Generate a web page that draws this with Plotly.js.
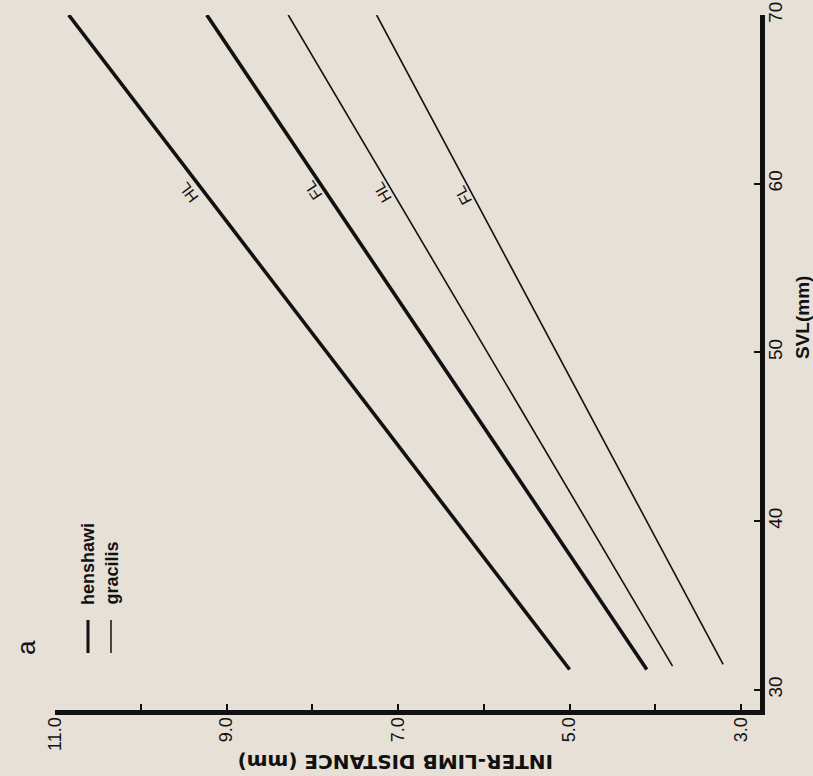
<!DOCTYPE html>
<html>
<head>
<meta charset="utf-8">
<script src="https://cdn.plot.ly/plotly-3.0.1.min.js"></script>
<style>
  html, body { margin: 0; padding: 0; background: #e6e0d7; }
  #chart { width: 813px; height: 776px; }
</style>
</head>
<body>
<div id="chart"></div>
<script>
// Chart is shown rotated 90° CCW: horizontal = inter-limb distance (reversed), vertical = SVL
const seriesNames = ['henshawi HL', 'henshawi FL', 'gracilis HL', 'gracilis FL'];
const svlHenshawiHL = [31.2, 70];
const svlHenshawiFL = [31.2, 70];
const svlGracilisHL = [31.4, 70];
const svlGracilisFL = [31.5, 70];
const distHenshawiHL = [5.0, 10.84];
const distHenshawiFL = [4.10, 9.23];
const distGracilisHL = [3.80, 8.28];
const distGracilisFL = [3.21, 7.25];

const distTicks = [3, 4, 5, 6, 7, 8, 9, 10, 11];
const distTickText = ['3.0', '', '5.0', '', '7.0', '', '9.0', '', '11.0'];
const svlTicks = [30, 40, 50, 60, 70];
const svlTickText = ['30', '40', '50', '60', '70'];

const lineLabels = ['HL', 'FL', 'HL', 'FL'];

const BG = '#e6e0d7';
const INK = '#111111';
const FONT = 'Liberation Sans, Arial, Helvetica, sans-serif';
const WIDE = 'DejaVu Sans, Liberation Sans, Arial, sans-serif';

function mk(x, y, w, name) {
  return { x: x, y: y, mode: 'lines', name: name, type: 'scatter',
           line: { color: INK, width: w }, hoverinfo: 'skip', showlegend: false };
}

const data = [
  mk(distHenshawiHL, svlHenshawiHL, 3.6, seriesNames[0]),
  mk(distHenshawiFL, svlHenshawiFL, 3.6, seriesNames[1]),
  mk(distGracilisHL, svlGracilisHL, 1.6, seriesNames[2]),
  mk(distGracilisFL, svlGracilisFL, 1.6, seriesNames[3])
];

const labelFont = { family: FONT, size: 16, color: INK };
function px(xp) { return (xp - 55) / 705; }
function py(yp) { return (710 - yp) / 695; }
const annotations = [
  { x: 9.45, y: 59.5, text: lineLabels[0], textangle: -127, showarrow: false, font: labelFont, xanchor: 'center', yanchor: 'middle' },
  { x: 7.99, y: 59.6, text: lineLabels[1], textangle: -124, showarrow: false, font: labelFont, xanchor: 'center', yanchor: 'middle' },
  { x: 7.19, y: 59.5, text: lineLabels[2], textangle: -120, showarrow: false, font: labelFont, xanchor: 'center', yanchor: 'middle' },
  { x: 6.24, y: 59.3, text: lineLabels[3], textangle: -118, showarrow: false, font: labelFont, xanchor: 'center', yanchor: 'middle' },
  // panel letter
  { xref: 'paper', yref: 'paper', x: px(26), y: py(648), xanchor: 'center', yanchor: 'middle',
    text: 'a', textangle: -90, showarrow: false, font: { family: FONT, size: 26, color: INK } },
  // legend texts
  { xref: 'paper', yref: 'paper', x: px(88), y: py(607), yanchor: 'bottom', xanchor: 'center',
    text: '<b>henshawi</b>', textangle: -90, showarrow: false, font: { family: FONT, size: 18, color: INK } },
  { xref: 'paper', yref: 'paper', x: px(111), y: py(607), yanchor: 'bottom', xanchor: 'center',
    text: '<b>gracilis</b>', textangle: -90, showarrow: false, font: { family: FONT, size: 18, color: INK } },
  // axis titles
  { xref: 'paper', yref: 'paper', x: px(395), y: py(762), xanchor: 'center', yanchor: 'middle',
    text: '<b>INTER-LIMB DISTANCE (mm)</b>', textangle: 180,
    showarrow: false, font: { family: WIDE, size: 20, color: INK } },
  { xref: 'paper', yref: 'paper', x: px(802), y: py(318), xanchor: 'center', yanchor: 'middle',
    text: '<b>SVL(mm)</b>', textangle: -90,
    showarrow: false, font: { family: FONT, size: 19, color: INK } }
];

const shapes = [
  { type: 'line', xref: 'paper', yref: 'paper', x0: px(88), x1: px(88),
    y0: py(620), y1: py(653), line: { color: INK, width: 3 } },
  { type: 'line', xref: 'paper', yref: 'paper', x0: px(111), x1: px(111),
    y0: py(620), y1: py(653), line: { color: INK, width: 1.5 } }
];

const layout = {
  width: 813, height: 776,
  margin: { l: 55, r: 53, t: 15, b: 66, pad: 0 },
  paper_bgcolor: BG, plot_bgcolor: BG,
  font: { family: FONT, color: INK },
  showlegend: false,
  xaxis: {
    range: [11, 2.78], tickmode: 'array', tickvals: distTicks, ticktext: distTickText,
    tickangle: -90, ticks: 'inside', ticklen: 6, tickwidth: 2, tickcolor: INK,
    ticklabelstandoff: -5,
    showline: true, linewidth: 5, linecolor: INK, showgrid: false, zeroline: false,
    tickfont: { family: FONT, size: 18, color: INK }, fixedrange: true
  },
  yaxis: {
    range: [28.8, 70], side: 'right', tickmode: 'array', tickvals: svlTicks, ticktext: svlTickText,
    tickangle: -90, ticks: 'inside', ticklen: 6, tickwidth: 2, tickcolor: INK,
    ticklabelstandoff: -6,
    showline: true, linewidth: 5, linecolor: INK, showgrid: false, zeroline: false,
    tickfont: { family: FONT, size: 19, color: INK }, fixedrange: true
  },
  annotations: annotations,
  shapes: shapes
};

Plotly.newPlot('chart', data, layout, { displayModeBar: false, staticPlot: true });
</script>
</body>
</html>
